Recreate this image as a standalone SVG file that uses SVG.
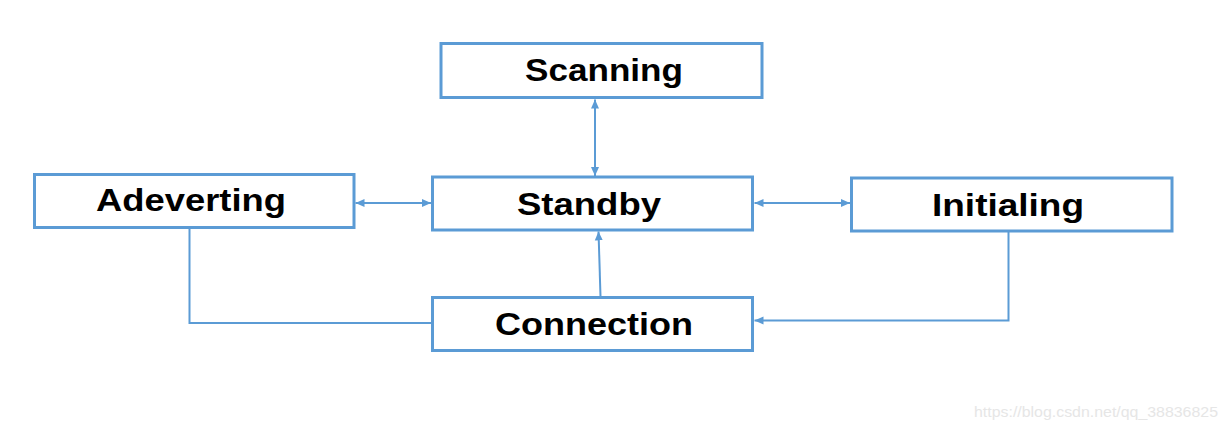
<svg xmlns="http://www.w3.org/2000/svg" width="1226" height="431" viewBox="0 0 1226 431">
<style>
.box{fill:#fff;stroke:#5B9BD5;stroke-width:3}
.lbl{font-family:"Liberation Sans",Arial,sans-serif;font-weight:bold;font-size:32px;fill:#000;text-anchor:middle}
.con{fill:none;stroke:#5B9BD5;stroke-width:2}
.wm{font-family:"Liberation Sans",Arial,sans-serif;font-size:14px;fill:#e6e6e6}
</style>
<defs>
<marker id="ah" markerUnits="userSpaceOnUse" markerWidth="10" markerHeight="10" viewBox="0 0 10 10" refX="9" refY="5" orient="auto-start-reverse">
<path d="M0,1 L9,5 L0,9 Z" fill="#5B9BD5"/>
</marker>
</defs>
<g id="connectors">
<line class="con" x1="595" y1="99.5" x2="595" y2="176" marker-start="url(#ah)" marker-end="url(#ah)"/>
<line class="con" x1="355.5" y1="203" x2="431" y2="203" marker-start="url(#ah)" marker-end="url(#ah)"/>
<line class="con" x1="754.5" y1="203" x2="850" y2="203" marker-start="url(#ah)" marker-end="url(#ah)"/>
<polyline class="con" points="189.5,228 189.5,323 431,323"/>
<line class="con" x1="600.5" y1="296" x2="598.5" y2="231.5" marker-end="url(#ah)"/>
<polyline class="con" points="1008.5,232 1008.5,320.5 754.5,320.5" marker-end="url(#ah)"/>
</g>
<g id="scanning"><rect class="box" x="441" y="43.5" width="321" height="54"/><text class="lbl" x="604" y="81" textLength="158" lengthAdjust="spacingAndGlyphs">Scanning</text></g>
<g id="adeverting"><rect class="box" x="34.5" y="174.5" width="319.5" height="53"/><text class="lbl" x="191" y="211" textLength="190" lengthAdjust="spacingAndGlyphs">Adeverting</text></g>
<g id="standby"><rect class="box" x="432.5" y="177" width="320" height="53"/><text class="lbl" x="589" y="215" textLength="144" lengthAdjust="spacingAndGlyphs">Standby</text></g>
<g id="initialing"><rect class="box" x="851.5" y="178" width="320.5" height="53"/><text class="lbl" x="1008" y="216" textLength="152" lengthAdjust="spacingAndGlyphs">Initialing</text></g>
<g id="connection"><rect class="box" x="432.5" y="297.5" width="320" height="53"/><text class="lbl" x="594" y="335" textLength="198" lengthAdjust="spacingAndGlyphs">Connection</text></g>
<text class="wm" x="974" y="417" textLength="244" lengthAdjust="spacingAndGlyphs">https://blog.csdn.net/qq_38836825</text>
</svg>
